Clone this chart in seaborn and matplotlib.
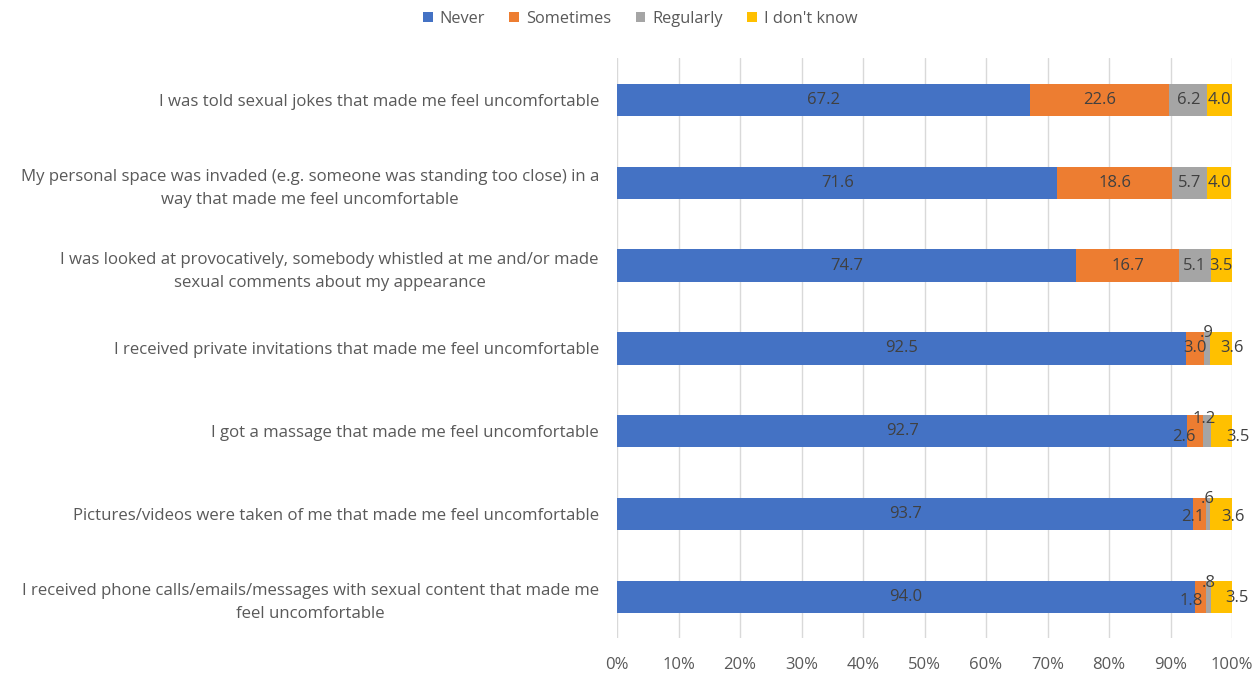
import numpy as np
import pandas as pd
import matplotlib
matplotlib.use("Agg")
import matplotlib.pyplot as plt
from matplotlib.patches import Patch
import seaborn as sns

# Survey items (top to bottom)
items = [
    "I was told sexual jokes that made me feel uncomfortable",
    "My personal space was invaded (e.g. someone was standing too close) in a\nway that made me feel uncomfortable",
    "I was looked at provocatively, somebody whistled at me and/or made\nsexual comments about my appearance",
    "I received private invitations that made me feel uncomfortable",
    "I got a massage that made me feel uncomfortable",
    "Pictures/videos were taken of me that made me feel uncomfortable",
    "I received phone calls/emails/messages with sexual content that made me\nfeel uncomfortable",
]

series = ["Never", "Sometimes", "Regularly", "I don't know"]
never = [67.2, 71.6, 74.7, 92.5, 92.7, 93.7, 94.0]
sometimes = [22.6, 18.6, 16.7, 3.0, 2.6, 2.1, 1.8]
regularly = [6.2, 5.7, 5.1, 0.9, 1.2, 0.6, 0.8]
dont_know = [4.0, 4.0, 3.5, 3.6, 3.5, 3.6, 3.5]

colors = ["#4472C4", "#ED7D31", "#A5A5A5", "#FFC000"]
x_ticks = list(range(0, 101, 10))

values = np.array([never, sometimes, regularly, dont_know])
cum = np.cumsum(values, axis=0)

sns.set_theme(style="white")
plt.rcParams["font.family"] = ["Open Sans", "DejaVu Sans"]

fig = plt.figure(figsize=(12.6, 6.73), dpi=100)
ax = fig.add_axes([0.4897, 0.0513, 0.4881, 0.862])

# Stacked bars: draw cumulative totals from the back to the front
for k in range(len(series) - 1, -1, -1):
    df = pd.DataFrame({"item": items, "value": cum[k]})
    sns.barplot(data=df, x="value", y="item", orient="h", color=colors[k],
                saturation=1, width=0.39, ax=ax, zorder=2, linewidth=0)


def fmt(v):
    s = f"{v:.1f}"
    return s[1:] if s.startswith("0") else s


# Label offsets (points) for crowded small segments
offsets = {
    (1, 4): (-8, -4), (1, 5): (-5, -2), (1, 6): (-7, -3),
    (2, 3): (0, 11), (2, 4): (-2, 9), (2, 5): (0, 11), (2, 6): (0, 10),
    (3, 3): (8, 0), (3, 4): (12, -4), (3, 5): (9, -2), (3, 6): (11, -1),
}

for k in range(len(series)):
    for i in range(len(items)):
        start = cum[k][i] - values[k][i]
        mid = start + values[k][i] / 2
        dx, dy = offsets.get((k, i), (0, 0))
        ax.annotate(fmt(values[k][i]), xy=(mid, i), xytext=(dx, dy),
                    textcoords="offset points", ha="center", va="center",
                    fontsize=12, color="#404040", zorder=5)

ax.set_xlim(0, 100)
ax.set_ylim(len(items) - 0.5, -0.5)
ax.set_xticks(x_ticks)
ax.set_xticklabels([f"{t}%" for t in x_ticks])
ax.set_xlabel("")
ax.set_ylabel("")
ax.grid(axis="x", color="#D9D9D9", linewidth=1, zorder=0)
ax.set_axisbelow(True)
for sp in ax.spines.values():
    sp.set_visible(False)
ax.tick_params(axis="x", length=0, pad=13, labelsize=12, labelcolor="#595959")
ax.tick_params(axis="y", length=0, pad=13, labelsize=12.1, labelcolor="#595959")
for lbl in ax.get_yticklabels():
    lbl.set_multialignment("center")
    lbl.set_linespacing(1.6)

handles = [Patch(facecolor=c, edgecolor="none") for c in colors]
fig.legend(handles, series, loc="center", bbox_to_anchor=(0.508, 0.972),
           ncol=4, frameon=False, fontsize=11.8, handlelength=0.6,
           handleheight=0.6, handletextpad=0.4, columnspacing=1.5,
           labelcolor="#595959")

fig.savefig("out.png", dpi=100)
